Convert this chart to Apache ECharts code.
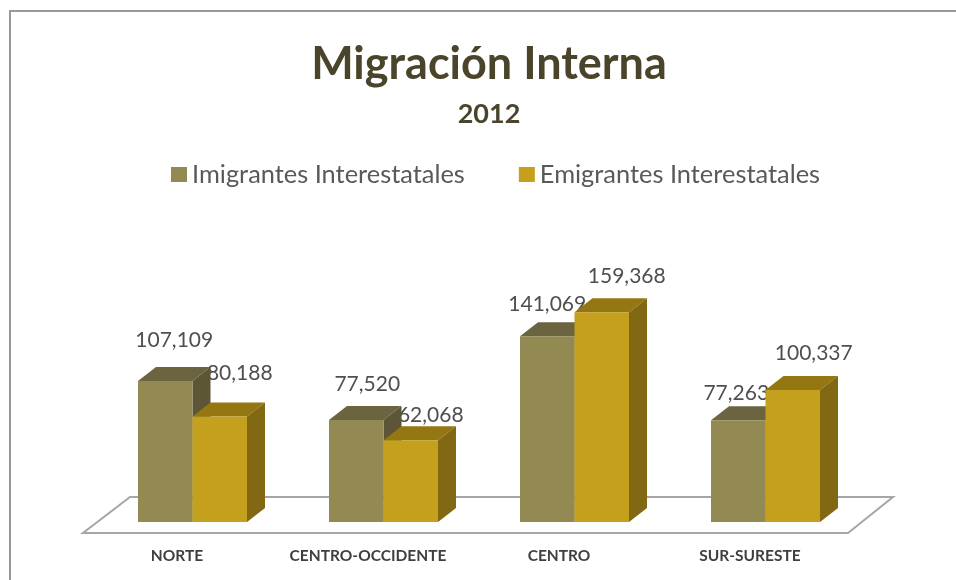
<!DOCTYPE html>
<html>
<head>
<meta charset="utf-8">
<style>html,body{margin:0;padding:0;background:#fff}#c{width:956px;height:580px}</style>
<script src="https://cdn.jsdelivr.net/npm/echarts@6/dist/echarts.min.js"></script>
</head>
<body>
<div id="c"></div>
<script>
const categories = ['NORTE', 'CENTRO-OCCIDENTE', 'CENTRO', 'SUR-SURESTE'];
const imigrantes = [107109, 77520, 141069, 77263];
const emigrantes = [80188, 62068, 159368, 100337];

const IMM = {front: '#938953', top: '#6b6440', side: '#5c5636'};
const EMI = {front: '#c4a01c', top: '#947712', side: '#826812'};
const BAR_W = 54.5, DX = 18, DY = 14;
// label displacement from each bar's top centre (reference places them by hand)
const immLabelShift = [[9, -41], [11, -36], [0, -32], [-2, -27]];
const emiLabelShift = [[20, -43], [20, -25], [25, -36], [21, -37]];
const fmt = v => v.toLocaleString('en-US');
const TXT = 'Lato, "Open Sans", sans-serif';

function extrude(colors, offset) {
  return function (params, api) {
    const p = api.coord([api.value(0), api.value(1)]);
    const base = api.coord([api.value(0), 0]);
    const x0 = p[0] + offset - BAR_W / 2, x1 = x0 + BAR_W, y = p[1], b = base[1];
    return {type: 'group', children: [
      {type: 'polygon', shape: {points: [[x0, y], [x0 + DX, y - DY], [x1 + DX, y - DY], [x1, y]]}, style: {fill: colors.top}},
      {type: 'polygon', shape: {points: [[x1, y], [x1 + DX, y - DY], [x1 + DX, b - DY], [x1, b]]}, style: {fill: colors.side}}
    ]};
  };
}
function valueLabels(offset, shifts) {
  return function (params, api) {
    const p = api.coord([api.value(0), api.value(1)]);
    const s = shifts[params.dataIndex];
    return {type: 'text', x: p[0] + offset + s[0], y: p[1] + s[1],
      style: {text: fmt(api.value(1)), fill: '#4f4f4f', font: '21px ' + TXT, align: 'center', verticalAlign: 'middle'}};
  };
}
function floor(params) {
  const g = params.coordSys, b = g.y + g.height, l = g.x, r = g.x + g.width;
  return {type: 'polygon', shape: {points: [[l - 14, b + 11], [r - 13, b + 11], [r + 32, b - 25], [l + 33, b - 25]]},
    style: {fill: '#fff', stroke: '#a6a6a6', lineWidth: 2}};
}
const pairs = a => a.map((v, i) => [i, v]);

const option = {
  animation: false,
  backgroundColor: '#fff',
  title: [
    {text: 'Migración Interna', left: 484, top: 37, textAlign: 'center',
      textStyle: {fontFamily: TXT, fontWeight: 700, fontSize: 45, color: '#4a452a'}},
    {text: '2012', left: 484, top: 96, textAlign: 'center',
      textStyle: {fontFamily: TXT, fontWeight: 700, fontSize: 27, color: '#4a452a'}}
  ],
  legend: {
    left: 166, top: 157, itemWidth: 16, itemHeight: 15, itemGap: 54,
    icon: 'rect',
    data: ['Imigrantes Interestatales', 'Emigrantes Interestatales'],
    textStyle: {fontFamily: TXT, fontSize: 25.4, color: '#595959'}
  },
  grid: {left: 97, right: 95, top: 285, bottom: 58},
  xAxis: {
    type: 'category', data: categories,
    axisLine: {show: false}, axisTick: {show: false},
    axisLabel: {fontFamily: TXT, fontWeight: 700, fontSize: 15.5, color: '#3f3f3f', margin: 26, padding: [0, 31, 0, 0], interval: 0}
  },
  yAxis: {type: 'value', min: 0, max: 180000, show: false},
  graphic: [{type: 'polyline', shape: {points: [[10, 580], [10, 11], [956, 11]]}, style: {fill: 'none', stroke: '#999', lineWidth: 2}, silent: true}],
  series: [
    {type: 'custom', z: 1, silent: true, data: [[0, 0]], renderItem: floor, tooltip: {show: false}},
    {type: 'custom', z: 2, silent: true, data: pairs(imigrantes), renderItem: valueLabels(-BAR_W / 2, immLabelShift)},
    {type: 'custom', z: 2, silent: true, data: pairs(emigrantes), renderItem: valueLabels(BAR_W / 2, emiLabelShift)},
    {type: 'custom', z: 3, silent: true, data: pairs(imigrantes), renderItem: extrude(IMM, -BAR_W / 2)},
    {type: 'bar', name: 'Imigrantes Interestatales', z: 4, data: imigrantes, barWidth: BAR_W, barGap: 0, itemStyle: {color: IMM.front}},
    {type: 'custom', z: 5, silent: true, data: pairs(emigrantes), renderItem: extrude(EMI, BAR_W / 2)},
    {type: 'bar', name: 'Emigrantes Interestatales', z: 6, data: emigrantes, barWidth: BAR_W, barGap: 0, itemStyle: {color: EMI.front}}
  ]
};
echarts.init(document.getElementById('c'), null, {renderer: 'canvas'}).setOption(option);
</script>
</body>
</html>
